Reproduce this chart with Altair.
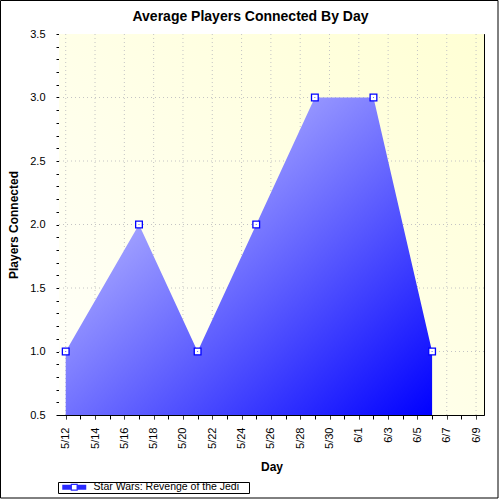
import altair as alt
import pandas as pd

# ---- data ----
dates = ["2005-05-12T00:00:00", "2005-05-17T00:00:00", "2005-05-21T00:00:00",
         "2005-05-25T00:00:00", "2005-05-29T00:00:00", "2005-06-02T00:00:00",
         "2005-06-06T00:00:00"]
players = [1.0, 2.0, 1.0, 2.0, 3.0, 3.0, 1.0]
series = "Star Wars: Revenge of the Jedi"

grid_dates = ["2005-05-12T00:00:00", "2005-05-14T00:00:00", "2005-05-16T00:00:00",
              "2005-05-18T00:00:00", "2005-05-20T00:00:00", "2005-05-22T00:00:00",
              "2005-05-24T00:00:00", "2005-05-26T00:00:00", "2005-05-28T00:00:00",
              "2005-05-30T00:00:00", "2005-06-01T00:00:00", "2005-06-03T00:00:00",
              "2005-06-05T00:00:00", "2005-06-07T00:00:00", "2005-06-09T00:00:00"]
grid_vals = [1.0, 1.5, 2.0, 2.5, 3.0]
y_ticks = [round(0.5 + 0.1 * i, 1) for i in range(31)]
x_ticks = [alt.DateTime(year=2005, month=5 if d <= 31 else 6,
                        date=d if d <= 31 else d - 31)
           for d in range(12, 41)]

W, H = 425, 381
FONT = "Liberation Sans"

df = pd.DataFrame({"day": dates, "players": players, "series": [series] * len(dates)})
gx = pd.DataFrame({"d": grid_dates})
gy = pd.DataFrame({"v": grid_vals})
one = pd.DataFrame({"a": [0]})

xscale = alt.Scale(domain=[alt.DateTime(year=2005, month=5, date=11, hours=13),
                           alt.DateTime(year=2005, month=6, date=9, hours=13)])
yscale = alt.Scale(domain=[0.5, 3.5], zero=False, nice=False)

major_x = "round((datum.value - datetime(2005,4,12)) / 864e5) % 2 === 0"
major_y = "abs(datum.value * 2 - round(datum.value * 2)) < 1e-6"

bg = alt.Chart(one).mark_rect(
    fill={"gradient": "linear", "x1": 0, "y1": 1, "x2": 1, "y2": 0,
          "stops": [{"offset": 0, "color": "#fffffb"},
                    {"offset": 1, "color": "#ffffd4"}]}
).encode(x=alt.value(0), x2=alt.value(W), y=alt.value(0), y2=alt.value(H))

grid_x = alt.Chart(gx).mark_rule(color="#c4c4c4", strokeDash=[1, 3], strokeWidth=1).encode(
    x=alt.X("d:T", scale=xscale, axis=None))
grid_y = alt.Chart(gy).mark_rule(color="#c4c4c4", strokeDash=[1, 3], strokeWidth=1).encode(
    y=alt.Y("v:Q", scale=yscale, axis=None))

area = alt.Chart(df).mark_area(
    fill={"gradient": "linear", "x1": 0, "y1": 0, "x2": 1, "y2": 1,
          "stops": [{"offset": 0, "color": "#e2e2ff"},
                    {"offset": 1, "color": "#0000ff"}]}
).encode(
    x=alt.X("day:T", scale=xscale, title="Day",
            axis=alt.Axis(orient="bottom", values=x_ticks, format="%-m/%-d",
                          labelExpr=f"{major_x} ? timeFormat(datum.value, '%-m/%-d') : ''",
                          labelAngle=-90, labelFontSize=11, labelFont=FONT,
                          labelColor="black", labelPadding=8, labelOverlap=False,
                          offset=-3, domain=False, grid=False,
                          tickColor="black", tickSize=7,
                          tickDash={"condition": {"test": major_x, "value": [1, 0]},
                                    "value": [0, 3, 4, 0]},
                          titleFont=FONT, titleFontSize=12, titleFontWeight="bold",
                          titleColor="black", titlePadding=13)),
    y=alt.Y("players:Q", scale=yscale, title="Players Connected",
            axis=alt.Axis(orient="left", values=y_ticks,
                          labelExpr=f"{major_y} ? format(datum.value, '.1f') : ''",
                          labelFontSize=11, labelFont=FONT, labelColor="black",
                          labelPadding=11, labelOverlap=False,
                          offset=-3, domain=False, grid=False,
                          tickColor="black", tickSize=6,
                          titleFont=FONT, titleFontSize=12, titleFontWeight="bold",
                          titleColor="black", titlePadding=9)),
    y2=alt.datum(0.5),
)

points = alt.Chart(df).mark_point(shape="square", size=45, fill="white", filled=False,
                                  stroke="#0000ff", strokeWidth=1.3, opacity=1).encode(
    x=alt.X("day:T", scale=xscale,
            axis=alt.Axis(orient="top", values=x_ticks, labels=False, title=None,
                          offset=-4, tickSize=4, tickColor="black", domain=False,
                          grid=False)),
    y=alt.Y("players:Q", scale=yscale,
            axis=alt.Axis(orient="right", values=y_ticks, labels=False, title=None,
                          offset=-3, tickSize=3, tickColor="black", domain=False,
                          grid=False)),
)

legend_path = ("M-0.25,-0.6H1.875V0.6H-0.25Z"
               "M3.625,-0.6H5.75V0.6H3.625Z"
               "M1.875,-0.875H3.625V0.875H1.875Z"
               "M2.175,-0.575V0.575H3.325V-0.575Z")

leg = alt.Chart(df).mark_point(shape="square", filled=True, size=1).encode(
    x=alt.X("day:T", scale=xscale, axis=None),
    y=alt.Y("players:Q", scale=yscale, axis=None),
    color=alt.Color("series:N", scale=alt.Scale(range=["#2a2aff"]),
                    legend=alt.Legend(orient="none", legendX=-1, legendY=448,
                                      title="\u00a0", titleOrient="right",
                                      titlePadding=10, titleFontSize=10,
                                      strokeColor="black", fillColor="white",
                                      padding=0, cornerRadius=0,
                                      symbolType=legend_path, symbolSize=64,
                                      symbolStrokeWidth=0, symbolOpacity=1,
                                      labelFont=FONT, labelFontSize=10.5,
                                      labelColor="black", labelOffset=25)),
)

frame = alt.Chart(one).mark_rect(fill=None, stroke="black", strokeWidth=1).encode(
    x=alt.value(-58.5), x2=alt.value(439), y=alt.value(-33.5), y2=alt.value(464))

chart = alt.layer(bg, grid_x, grid_y, area, points, leg, frame).resolve_axis(
    x="independent", y="independent"
).properties(
    width=W, height=H,
    title=alt.TitleParams("Average Players Connected By Day", font=FONT, fontSize=14,
                          fontWeight="bold", color="black", anchor="middle",
                          dx=-21, offset=-24),
    autosize=alt.AutoSizeParams(type="none"),
    padding={"left": 59, "top": 34, "right": 16, "bottom": 85},
    background="white",
).configure_view(stroke="black", strokeWidth=1)

chart.save("out.html", embed_options={"renderer": "svg", "actions": False})
